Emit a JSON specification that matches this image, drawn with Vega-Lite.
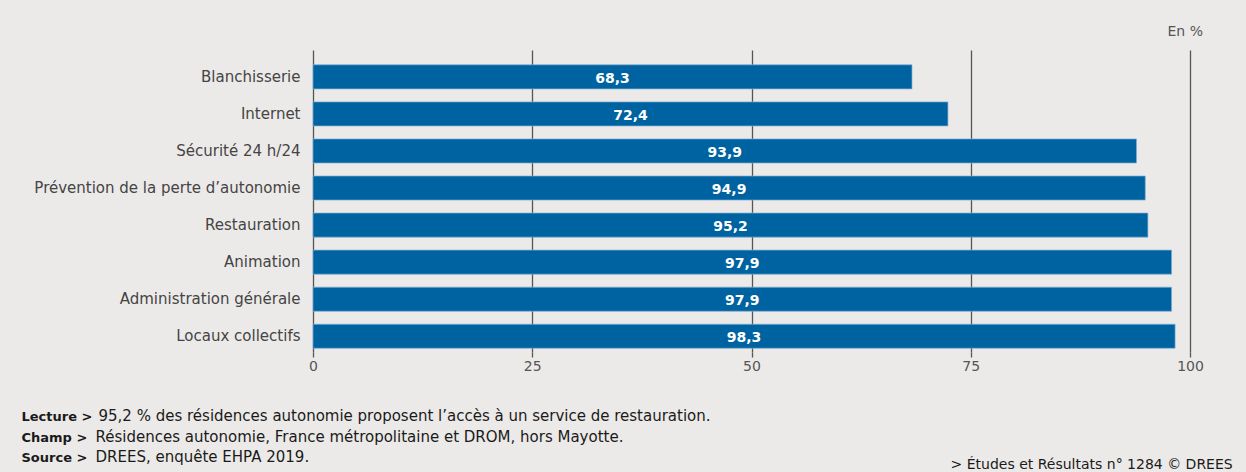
{
  "$schema": "https://vega.github.io/schema/vega-lite/v6.json",
  "width": 877,
  "height": 302,
  "autosize": {"type": "none"},
  "padding": {"left": 313, "top": 50, "right": 56, "bottom": 120},
  "background": "#eceae8",
  "title": {
    "text": "En %",
    "anchor": "end",
    "orient": "top",
    "frame": "group",
    "offset": 11,
    "dx": 13,
    "fontSize": 14,
    "font": "DejaVu Sans",
    "fontWeight": "normal",
    "color": "#555555"
  },
  "config": {
    "view": {"stroke": null},
    "font": "DejaVu Sans",
    "locale": {"number": {"decimal": ",", "thousands": " ", "grouping": [3], "currency": ["", " €"]}}
  },
  "data": {
    "values": [
      {"service": "Blanchisserie", "pct": 68.3},
      {"service": "Internet", "pct": 72.4},
      {"service": "Sécurité 24 h/24", "pct": 93.9},
      {"service": "Prévention de la perte d’autonomie", "pct": 94.9},
      {"service": "Restauration", "pct": 95.2},
      {"service": "Animation", "pct": 97.9},
      {"service": "Administration générale", "pct": 97.9},
      {"service": "Locaux collectifs", "pct": 98.3}
    ]
  },
  "layer": [
    {
      "mark": {"type": "bar", "color": "#0063a1", "stroke": "#7fb0d6", "strokeWidth": 0.7},
      "encoding": {
        "y": {
          "field": "service",
          "type": "nominal",
          "sort": null,
          "scale": {"type": "band", "paddingInner": 0.35, "paddingOuter": 0.25, "align": 0.8},
          "axis": {
            "domain": false,
            "ticks": false,
            "labelFontSize": 15,
            "labelColor": "#444444",
            "labelPadding": 13,
            "labelLimit": 400,
            "title": ["Résidences autonomie, France métropolitaine et DROM, hors Mayotte.", "DREES, enquête EHPA 2019."],
            "titleAngle": 0,
            "titleX": -218,
            "titleY": 391,
            "titleAlign": "left",
            "titleBaseline": "alphabetic",
            "titleFontSize": 15,
            "titleFontWeight": "normal",
            "titleColor": "#1a1a1a",
            "titleLineHeight": 20.5
          }
        },
        "x": {
          "field": "pct",
          "type": "quantitative",
          "scale": {"domain": [0, 100]},
          "axis": {
            "values": [0, 25, 50, 75, 100],
            "grid": true,
            "gridColor": "#555555",
            "gridWidth": 1.3,
            "domain": false,
            "ticks": true,
            "tickColor": "#555555",
            "tickWidth": 1.3,
            "tickSize": 5,
            "labelFontSize": 14,
            "labelColor": "#555555",
            "labelPadding": 2,
            "labelFlush": false,
            "title": ["Lecture >", "Champ >", "Source >"],
            "titleX": -292,
            "titleY": 68.5,
            "titleAlign": "left",
            "titleBaseline": "alphabetic",
            "titleFontSize": 13,
            "titleFontWeight": "bold",
            "titleColor": "#1a1a1a",
            "titleLineHeight": 20.5
          }
        }
      }
    },
    {
      "mark": {"type": "text", "color": "white", "fontSize": 14, "fontWeight": "bold", "baseline": "middle", "dy": 2},
      "encoding": {
        "y": {
          "field": "service",
          "type": "nominal",
          "sort": null,
          "scale": {"type": "band", "paddingInner": 0.35, "paddingOuter": 0.25, "align": 0.8},
          "axis": {
            "orient": "right",
            "labels": false,
            "ticks": false,
            "domain": false,
            "grid": false,
            "title": "> Études et Résultats n° 1284 © DREES",
            "titleAngle": 0,
            "titleX": -240,
            "titleY": 418,
            "titleAlign": "left",
            "titleBaseline": "alphabetic",
            "titleFontSize": 14,
            "titleFontWeight": "normal",
            "titleColor": "#1a1a1a"
          }
        },
        "x": {
          "field": "pct",
          "type": "quantitative",
          "scale": {"domain": [0, 200]},
          "axis": {
            "orient": "top",
            "labels": false,
            "ticks": false,
            "domain": false,
            "grid": false,
            "title": "95,2 % des résidences autonomie proposent l’accès à un service de restauration.",
            "titleX": -215,
            "titleY": 370.5,
            "titleAlign": "left",
            "titleBaseline": "alphabetic",
            "titleFontSize": 15,
            "titleFontWeight": "normal",
            "titleColor": "#1a1a1a"
          }
        },
        "text": {"field": "pct", "type": "quantitative", "format": ".1f"}
      }
    }
  ],
  "resolve": {
    "scale": {"x": "independent", "y": "independent"},
    "axis": {"x": "independent", "y": "independent"}
  }
}
